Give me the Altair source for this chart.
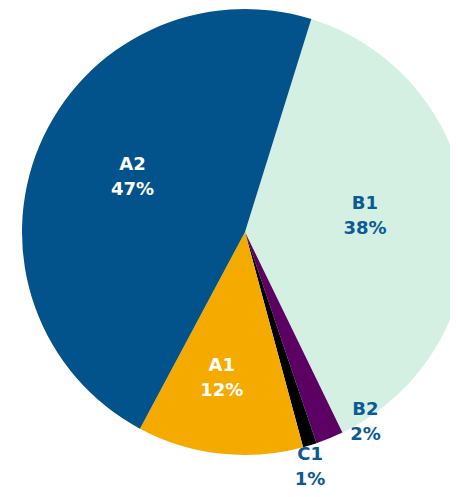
import math
import altair as alt
import pandas as pd

# data
categories = ["B1", "B2", "C1", "A1", "A2"]
values = [38, 2, 1, 12, 47]

# styling (kept separate from the data)
slice_colors = ["#D3F0E3", "#5C0064", "#000000", "#F5AA00", "#02538B"]
label_colors = ["#0B5A95", "#0B5A95", "#0B5A95", "#FFFFFF", "#FFFFFF"]
label_radius = [121, 225, 244, 148, 125]
label_shift = [-0.9, -2.8, 0.4, 0.7, 0.9]  # in percent units of the theta scale

df = pd.DataFrame({
    "cat": categories,
    "value": values,
    "idx": list(range(len(categories))),
    "lcolor": label_colors,
    "lr": label_radius,
    "shift": label_shift,
})
df["label"] = [f"{c}\n{v}%" for c, v in zip(categories, values)]

start = math.radians(17.3)
theta_scale = alt.Scale(domain=[0, 100], range=[start, start + 2 * math.pi])
cx, cy, R = 237, 224, 223

base = alt.Chart(df)

arcs = base.mark_arc(outerRadius=R).encode(
    theta=alt.Theta("value:Q", stack=True, scale=theta_scale),
    color=alt.Color("cat:N", scale=alt.Scale(domain=categories, range=slice_colors), legend=None),
    order=alt.Order("idx:Q"),
    x=alt.value(cx),
    y=alt.value(cy),
)

labels = base.transform_window(
    cum="sum(value)", sort=[alt.SortField("idx")], frame=[None, 0]
).transform_calculate(
    mid="datum.cum - datum.value / 2 + datum.shift"
).mark_text(
    font="DejaVu Sans", fontWeight="bold", fontSize=18, lineBreak="\n",
    lineHeight=25, align="center", baseline="middle", dy=-12
).encode(
    theta=alt.Theta("mid:Q", scale=theta_scale, stack=False),
    radius=alt.Radius("lr:Q", scale=None),
    text="label:N",
    color=alt.Color("lcolor:N", scale=None),
    x=alt.value(cx),
    y=alt.value(cy),
)

chart = alt.layer(arcs, labels).properties(
    width=442, height=481, autosize=alt.AutoSizeParams(type="none"), padding=0,
    background="white",
).configure_view(stroke=None, strokeWidth=0)

chart.save("out.html", embed_options={"renderer": "svg", "actions": False})
